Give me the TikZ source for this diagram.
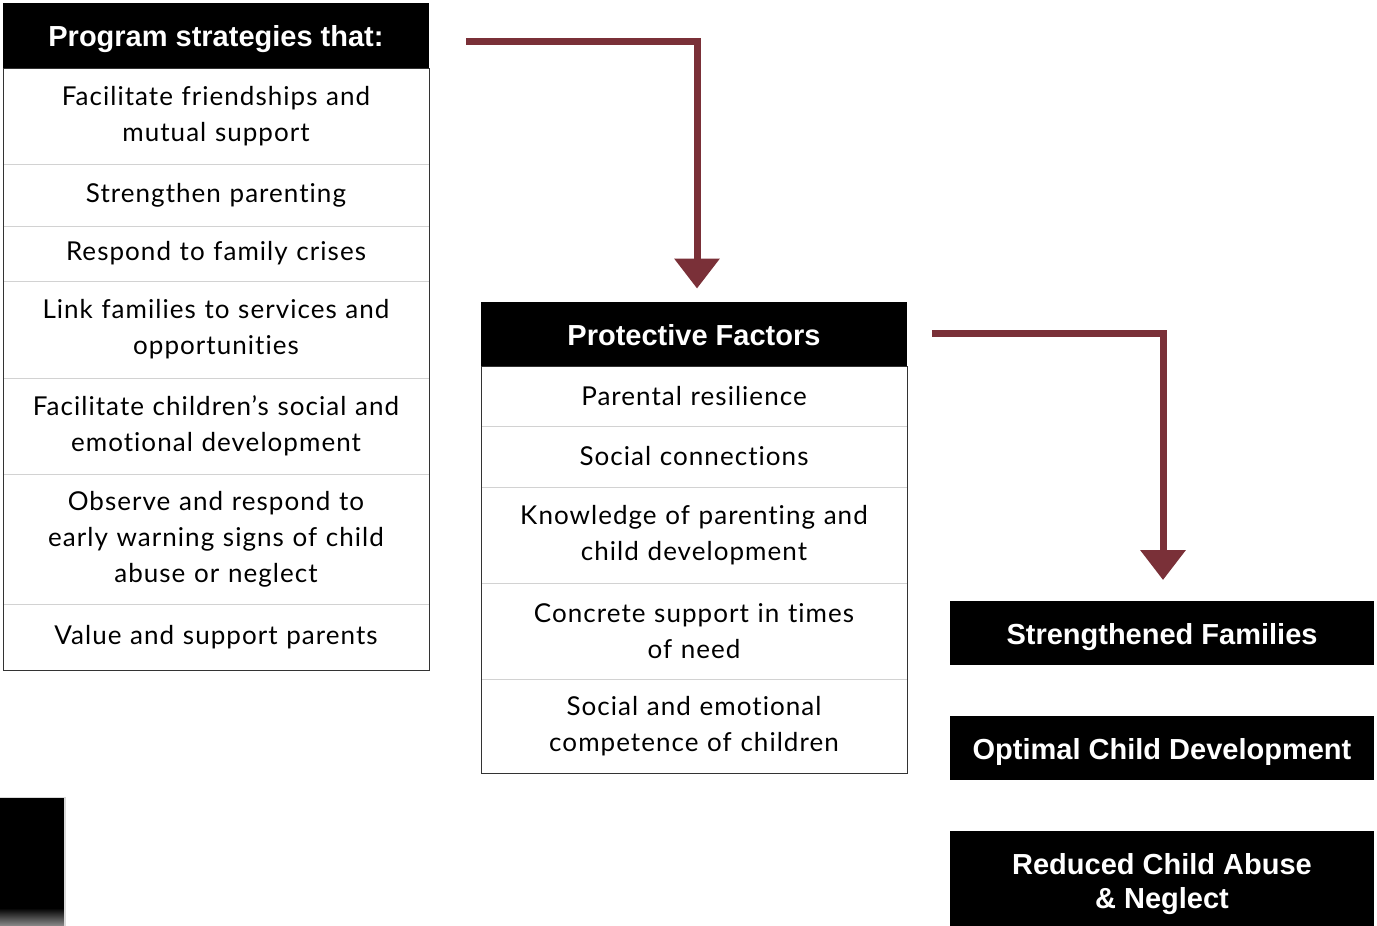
\documentclass[tikz,border=0pt]{standalone}
\usepackage{fontspec}
\setmainfont{Lato}[LetterSpace=4,Ligatures=NoCommon]
\newfontfamily\arialfont{Liberation Sans}
\usetikzlibrary{arrows.meta}
\usetikzlibrary{calc}
\definecolor{arrowred}{HTML}{7A3038}
\definecolor{rulegray}{HTML}{D2D2D2}
\tikzstyle{blackbox}=[rectangle,fill=black,text=white,inner sep=0pt,outer sep=0pt,minimum width=426pt,minimum height=65pt,align=center,font=\arialfont\bfseries\fontsize{29}{34}\selectfont]
\tikzstyle{headbox}=[blackbox,text height=26pt,text depth=4pt]
\tikzstyle{item}=[rectangle,inner sep=0pt,outer sep=0pt,text width=426pt,align=center,font=\fontsize{26}{36}\selectfont]
\tikzstyle{flow}=[draw=arrowred,line width=7pt,-{Triangle[width=44pt,length=30pt]}]

\begin{document}
\begin{tikzpicture}[x=1pt, y=-1pt]
    \clip (0,0) rectangle (1377,926);
    \fill[white] (0,0) rectangle (1377,926);
    % left column
    \node[headbox] (strat) at (216,35.5) {Program strategies that:};
    \foreach \n/\ya/\yb/\txt in {
        1/68/164/{Facilitate friendships and\\mutual support},
        2/164/226/{Strengthen parenting},
        3/226/281/{Respond to family crises},
        4/281/378/{Link families to services and\\opportunities},
        5/378/474/{Facilitate children’s social and\\emotional development},
        6/474/604/{Observe and respond to\\early warning signs of child\\abuse or neglect},
        7/604/670/{Value and support parents}} {
        \node[item, minimum height={(\yb-\ya)*1pt}] (strat\n) at (216, {(\ya+\yb)/2}) {\txt};
    };
    \foreach \n in {1,...,6} {
        \draw[rulegray] (strat\n.south west) -- (strat\n.south east);
    };
    \draw[black!80] (strat.south west) rectangle (strat7.south east);
    % middle column
    \node[headbox] (prot) at (694,334) {Protective Factors};
    \foreach \n/\ya/\yb/\txt in {
        1/367/426/{Parental resilience},
        2/426/487/{Social connections},
        3/487/583/{Knowledge of parenting and\\child development},
        4/583/679/{Concrete support in times\\of need},
        5/679/773/{Social and emotional\\competence of children}} {
        \node[item, minimum height={(\yb-\ya)*1pt}] (prot\n) at (694, {(\ya+\yb)/2}) {\txt};
    };
    \foreach \n in {1,...,4} {
        \draw[rulegray] (prot\n.south west) -- (prot\n.south east);
    };
    \draw[black!80] (prot.south west) rectangle (prot5.south east);
    % outcomes
    \node[headbox, minimum width=424pt, minimum height=64pt] (families) at (1162,633) {Strengthened Families};
    \node[headbox, minimum width=424pt, minimum height=64pt] (development) at (1162,748) {Optimal Child Development};
    \node[blackbox, minimum width=424pt, minimum height=106pt] (abuse) at (1162,884) {Reduced Child Abuse\\\& Neglect};
    % arrows
    \coordinate (start1) at (466,41);
    \coordinate (start2) at (932,333);
    \draw[flow] (start1) -| ([xshift=3pt,yshift=13pt]prot.north);
    \draw[flow] (start2) -| ([xshift=1pt,yshift=21pt]families.north);
    % photo corner
    \fill[black] (0,797) rectangle (65,926);
    \shade[top color=black, bottom color=black!45] (0,908) rectangle (65,926);
    \draw[black!15, line width=1.5pt] (0,797.5) -- (65,797.5) -- (65,926);
\end{tikzpicture}
\end{document}
